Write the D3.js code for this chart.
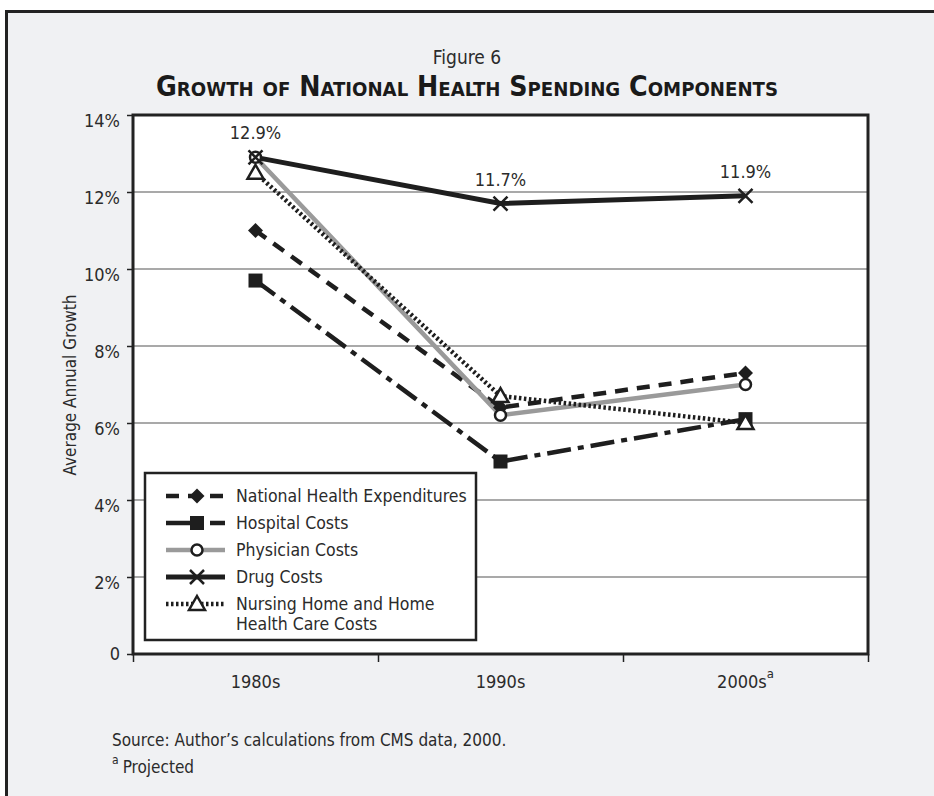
<!DOCTYPE html>
<html>
<head>
<meta charset="utf-8">
<script src="https://cdn.jsdelivr.net/npm/d3@7"></script>
<style>
  html, body { margin: 0; padding: 0; background: #fff; }
  svg { display: block; }
  text { font-family: "DejaVu Sans", sans-serif; font-stretch: condensed; fill: #2b2b2b; }
</style>
</head>
<body>
<svg id="chart" width="934" height="796"></svg>
<script>
/*
** Data
*/
var decades = ["1980s", "1990s", "2000s"];
var yTicks = [0, 2, 4, 6, 8, 10, 12, 14];

var nationalHealth = [11.0, 6.4, 7.3];
var hospitalCosts  = [9.7, 5.0, 6.1];
var physicianCosts = [12.9, 6.2, 7.0];
var drugCosts      = [12.9, 11.7, 11.9];
var nursingCosts   = [12.5, 6.7, 6.0];

var drugLabels = ["12.9%", "11.7%", "11.9%"];

var seriesNames = [
  "National Health Expenditures",
  "Hospital Costs",
  "Physician Costs",
  "Drug Costs",
  "Nursing Home and Home|Health Care Costs"
];

(function() {
  // style per series (order matches seriesNames)
  var series = [
    { name: seriesNames[0], values: nationalHealth, color: "#1e1e1e", width: 4.5, dash: "13,9", marker: "diamond" },
    { name: seriesNames[1], values: hospitalCosts,  color: "#1e1e1e", width: 4.5, dash: "24,7,6,7", marker: "square" },
    { name: seriesNames[2], values: physicianCosts, color: "#9a9a9a", width: 4.5, dash: null, marker: "circle" },
    { name: seriesNames[3], values: drugCosts,      color: "#1e1e1e", width: 5, dash: null, marker: "cross" },
    { name: seriesNames[4], values: nursingCosts,   color: "#1e1e1e", width: 4.5, dash: "2.5,2.5", marker: "triangle" }
  ];

  var svg = d3.select("#chart");
  var plotLeft = 133, plotRight = 868, plotTop = 115, plotBottom = 654;

  // outer background + frame
  svg.append("rect")
      .attr("width", 934).attr("height", 796)
      .attr("fill", "#ffffff");
  svg.append("rect")
      .attr("x", 6.5).attr("y", 11.5)
      .attr("width", 1000).attr("height", 1000)
      .attr("fill", "#f0f1f3")
      .attr("stroke", "#222").attr("stroke-width", 3);

  var x = d3.scaleBand().domain(decades).range([plotLeft, plotRight]).paddingInner(0).paddingOuter(0);
  var y = d3.scaleLinear().domain([0, 14]).range([plotBottom, plotTop]);
  function cx(i) { return x(decades[i]) + x.bandwidth() / 2; }

  // titles
  svg.append("text")
      .attr("x", 467).attr("y", 64)
      .attr("text-anchor", "middle")
      .style("font-size", "19px")
      .text("Figure 6");
  svg.append("text")
      .attr("x", 467).attr("y", 96)
      .attr("text-anchor", "middle")
      .style("font-size", "28px")
      .style("font-weight", "bold")
      .style("font-variant", "small-caps")
      .style("fill", "#1a1a1a")
      .attr("textLength", 622)
      .attr("lengthAdjust", "spacingAndGlyphs")
      .text("Growth of National Health Spending Components");

  // plot background
  svg.append("rect")
      .attr("x", plotLeft).attr("y", plotTop)
      .attr("width", plotRight - plotLeft).attr("height", plotBottom - plotTop)
      .attr("fill", "#fff");

  // gridlines
  svg.append("g")
      .selectAll("line")
      .data(yTicks.filter(function(d) { return d > 0 && d < 14; }))
    .enter().append("line")
      .attr("x1", plotLeft).attr("x2", plotRight)
      .attr("y1", function(d) { return y(d); })
      .attr("y2", function(d) { return y(d); })
      .attr("stroke", "#555").attr("stroke-width", 1.2);

  // plot frame
  svg.append("rect")
      .attr("x", plotLeft).attr("y", plotTop)
      .attr("width", plotRight - plotLeft).attr("height", plotBottom - plotTop)
      .attr("fill", "none")
      .attr("stroke", "#222").attr("stroke-width", 3);

  // y axis
  var yAxis = d3.axisLeft(y)
      .tickValues(yTicks)
      .tickSize(6)
      .tickPadding(7)
      .tickFormat(function(d) { return d === 0 ? "0" : d + "%"; });
  var gy = svg.append("g")
      .attr("transform", "translate(" + plotLeft + ",0)")
      .call(yAxis);
  gy.select(".domain").remove();
  gy.selectAll(".tick line").attr("stroke", "#222").attr("stroke-width", 1.5);
  gy.selectAll(".tick text")
      .attr("font-family", null)
      .attr("font-size", null)
      .attr("dy", function(d) { return d === 0 ? "0.32em" : "0.62em"; })
      .style("font-size", "18px")
      .attr("fill", "#2b2b2b");

  // x axis ticks at band edges
  var edges = d3.scaleLinear().domain([0, decades.length]).range([plotLeft, plotRight]);
  var gx = svg.append("g")
      .attr("transform", "translate(0," + plotBottom + ")")
      .call(d3.axisBottom(edges).tickValues(d3.range(decades.length + 1)).tickSize(8).tickFormat(""));
  gx.select(".domain").remove();
  gx.selectAll(".tick line").attr("stroke", "#222").attr("stroke-width", 1.5);

  var xLabels = svg.append("g")
      .selectAll("text")
      .data(decades)
    .enter().append("text")
      .attr("x", function(d) { return x(d) + x.bandwidth() / 2; })
      .attr("y", 688)
      .attr("text-anchor", "middle")
      .style("font-size", "18px")
      .text(function(d) { return d; });
  xLabels.filter(function(d, i) { return i === 2; })
    .append("tspan")
      .attr("dy", -10)
      .style("font-size", "13px")
      .text("a");

  // y axis title
  svg.append("text")
      .attr("transform", "translate(76,385) rotate(-90)")
      .attr("text-anchor", "middle")
      .style("font-size", "17px")
      .text("Average Annual Growth");

  /*
  ** Markers
  */
  function drawMarker(g, type, px, py) {
    var s;
    if (type === "diamond") {
      s = 7.5;
      g.append("path")
          .attr("d", "M" + px + "," + (py - s) + "L" + (px + s) + "," + py + "L" + px + "," + (py + s) + "L" + (px - s) + "," + py + "Z")
          .attr("fill", "#1e1e1e");
    } else if (type === "square") {
      s = 7;
      g.append("rect")
          .attr("x", px - s).attr("y", py - s)
          .attr("width", 2 * s).attr("height", 2 * s)
          .attr("fill", "#1e1e1e");
    } else if (type === "circle") {
      g.append("circle")
          .attr("cx", px).attr("cy", py).attr("r", 5.5)
          .attr("fill", "#fff").attr("stroke", "#1e1e1e").attr("stroke-width", 2.5);
    } else if (type === "cross") {
      s = 7;
      g.append("path")
          .attr("d", "M" + (px - s) + "," + (py - s) + "L" + (px + s) + "," + (py + s) +
                     "M" + (px + s) + "," + (py - s) + "L" + (px - s) + "," + (py + s))
          .attr("stroke", "#1e1e1e").attr("stroke-width", 2.5).attr("fill", "none");
    } else if (type === "triangle") {
      s = 8;
      g.append("path")
          .attr("d", "M" + px + "," + (py - s) + "L" + (px + s) + "," + (py + s * 0.75) + "L" + (px - s) + "," + (py + s * 0.75) + "Z")
          .attr("fill", "#fff").attr("stroke", "#1e1e1e").attr("stroke-width", 2.5);
    }
  }

  var line = d3.line()
      .x(function(d, i) { return cx(i); })
      .y(function(d) { return y(d); });

  var lines = svg.append("g");
  series.forEach(function(s) {
    lines.append("path")
        .datum(s.values)
        .attr("d", line)
        .attr("fill", "none")
        .attr("stroke", s.color)
        .attr("stroke-width", s.width)
        .attr("stroke-dasharray", s.dash);
  });

  var marks = svg.append("g");
  series.forEach(function(s) {
    s.values.forEach(function(v, i) {
      drawMarker(marks, s.marker, cx(i), y(v));
    });
  });

  // drug data labels
  svg.append("g")
      .selectAll("text")
      .data(drugCosts)
    .enter().append("text")
      .attr("x", function(d, i) { return cx(i); })
      .attr("y", function(d) { return y(d) - 18; })
      .attr("text-anchor", "middle")
      .style("font-size", "18px")
      .text(function(d, i) { return drugLabels[i]; });

  /*
  ** Legend
  */
  var legend = svg.append("g").attr("transform", "translate(145,473)");
  legend.append("rect")
      .attr("width", 331).attr("height", 167)
      .attr("fill", "#fff")
      .attr("stroke", "#222").attr("stroke-width", 2.5);

  series.forEach(function(s, i) {
    var ly = 23 + i * 27;
    var row = legend.append("g");
    row.append("line")
        .attr("x1", 21).attr("x2", 80)
        .attr("y1", ly).attr("y2", ly)
        .attr("stroke", s.color)
        .attr("stroke-width", s.width)
        .attr("stroke-dasharray", s.dash);
    drawMarker(row, s.marker, 52, ly);
    var t = row.append("text")
        .attr("x", 91).attr("y", ly + 6)
        .style("font-size", "17.5px");
    s.name.split("|").forEach(function(part, k) {
      t.append("tspan")
          .attr("x", 91)
          .attr("dy", k === 0 ? 0 : 20)
          .text(part);
    });
  });

  // source notes
  svg.append("text")
      .attr("x", 112).attr("y", 746)
      .style("font-size", "17px")
      .text("Source: Author\u2019s calculations from CMS data, 2000.");
  var note = svg.append("text")
      .attr("x", 112).attr("y", 773)
      .style("font-size", "17px");
  note.append("tspan")
      .attr("dy", -9)
      .style("font-size", "12px")
      .text("a");
  note.append("tspan")
      .attr("dy", 9)
      .attr("dx", 4)
      .text("Projected");
})();
</script>
</body>
</html>
